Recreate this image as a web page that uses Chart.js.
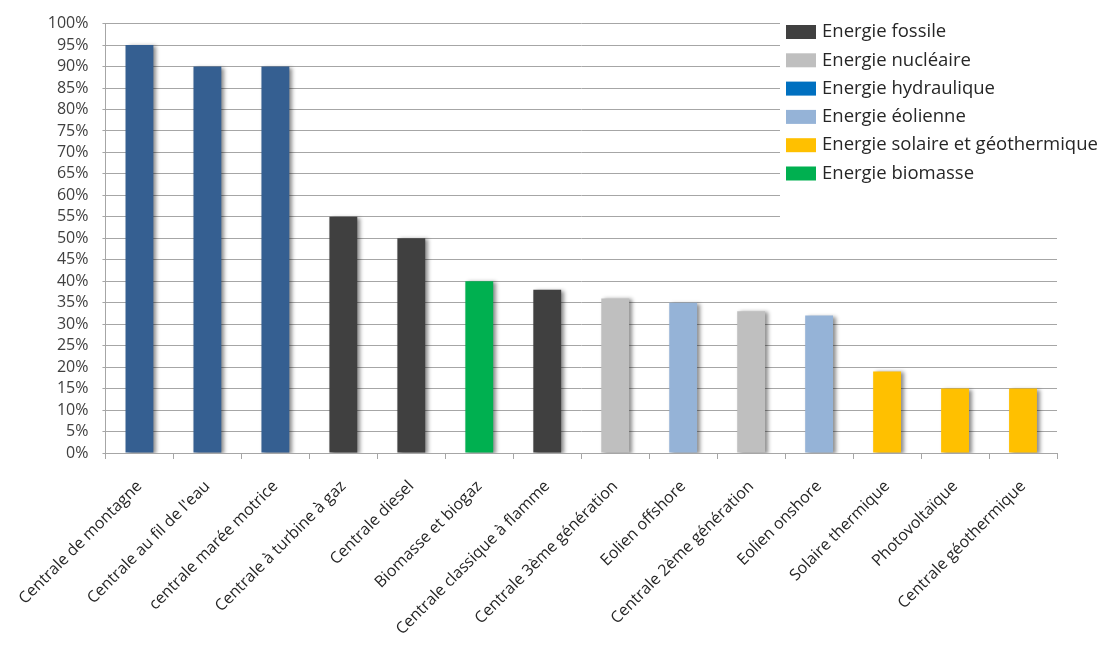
<!DOCTYPE html>
<html>
<head>
<meta charset="utf-8">
<script src="https://cdn.jsdelivr.net/npm/chart.js@4/dist/chart.umd.min.js"></script>
<style>
  body { margin: 0; background: #fff; }
  #wrap { width: 1112px; height: 646px; }
</style>
</head>
<body>
<div id="wrap"><canvas id="bar-chart"></canvas></div>
<script>
// categories and values
var categories = [
  "Centrale de montagne", "Centrale au fil de l'eau", "centrale marée motrice",
  "Centrale à turbine à gaz", "Centrale diesel", "Biomasse et biogaz",
  "Centrale classique à flamme", "Centrale 3ème génération", "Eolien offshore",
  "Centrale 2ème génération", "Eolien onshore", "Solaire thermique",
  "Photovoltaïque", "Centrale géothermique"
];
var rendement = [95, 90, 90, 55, 50, 40, 38, 36, 35, 33, 32, 19, 15, 15];
var barColors = [
  "#355f91", "#355f91", "#355f91", "#404040", "#404040", "#00b050", "#404040",
  "#bfbfbf", "#95b3d7", "#bfbfbf", "#95b3d7", "#ffc000", "#ffc000", "#ffc000"
];
var legendLabels = [
  "Energie fossile", "Energie nucléaire", "Energie hydraulique",
  "Energie éolienne", "Energie solaire et géothermique", "Energie biomasse"
];
var legendColors = ["#404040", "#bfbfbf", "#0070c0", "#95b3d7", "#ffc000", "#00b050"];

var fontFam = "'Open Sans', 'DejaVu Sans', sans-serif";

// soft shadow on the bars, like the office chart
var barShadow = {
  id: 'barShadow',
  beforeDatasetsDraw: function(chart) {
    var ctx = chart.ctx;
    ctx.save();
    ctx.shadowColor = 'rgba(0,0,0,0.45)';
    ctx.shadowBlur = 4;
    ctx.shadowOffsetX = 3;
    ctx.shadowOffsetY = 1;
  },
  afterDatasetsDraw: function(chart) {
    chart.ctx.restore();
  }
};

// legend sitting over the top right of the plot
var boxLegend = {
  id: 'boxLegend',
  afterDatasetsDraw: function(chart) {
    var ctx = chart.ctx;
    var x0 = 780, y0 = 0;
    ctx.save();
    ctx.fillStyle = '#fff';
    ctx.fillRect(x0, y0, chart.width - x0, 226);
    ctx.font = '18.5px ' + fontFam;
    ctx.textBaseline = 'middle';
    for (var i = 0; i < legendLabels.length; i++) {
      var y = 32 + i * 28.3;
      ctx.fillStyle = legendColors[i];
      ctx.fillRect(786, y - 7, 30, 14);
      ctx.fillStyle = '#262626';
      ctx.fillText(legendLabels[i], 822, y);
    }
    ctx.restore();
  }
};

new Chart(document.getElementById("bar-chart"), {
  type: 'bar',
  data: {
    labels: categories,
    datasets: [{
      data: rendement,
      backgroundColor: barColors,
      barPercentage: 0.41,
      categoryPercentage: 1
    }]
  },
  options: {
    responsive: true,
    maintainAspectRatio: false,
    animation: false,
    layout: { padding: { top: 9, right: 55, left: 0, bottom: 0 } },
    plugins: {
      legend: { display: false },
      tooltip: { enabled: false }
    },
    scales: {
      x: {
        afterFit: function(scale) { scale.height = 193; },
        grid: { display: true, drawOnChartArea: false, offset: true, color: '#a6a6a6', tickLength: 6 },
        border: { color: '#a6a6a6' },
        ticks: {
          minRotation: 45, maxRotation: 45,
          color: '#262626',
          font: { family: fontFam, size: 16 },
          padding: 18
        }
      },
      y: {
        min: 0, max: 100,
        afterFit: function(scale) { scale.width = 105; },
        grid: { color: '#a6a6a6', tickLength: 3 },
        border: { color: '#a6a6a6' },
        ticks: {
          stepSize: 5,
          autoSkip: false,
          color: '#404040',
          padding: 14,
          font: { family: fontFam, size: 16 },
          callback: function(v) { return v + '%'; }
        }
      }
    }
  },
  plugins: [barShadow, boxLegend]
});
</script>
</body>
</html>
